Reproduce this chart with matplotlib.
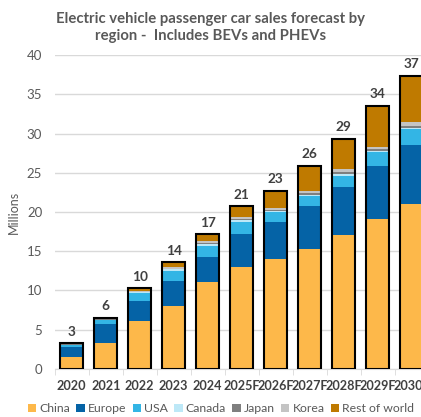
import matplotlib
matplotlib.use("Agg")
import matplotlib.pyplot as plt
import numpy as np
from matplotlib.patches import Patch

years = ["2020", "2021", "2022", "2023", "2024", "2025F", "2026F", "2027F", "2028F", "2029F", "2030F"]
china  = [1.45, 3.24, 6.05, 7.95, 11.03, 12.94, 13.96, 15.32, 17.10, 19.10, 20.98]
europe = [1.28, 2.43, 2.63, 3.22, 3.19, 4.25, 4.76, 5.41, 6.09, 6.73, 7.57]
usa    = [0.30, 0.55, 0.94, 1.32, 1.48, 1.50, 1.25, 1.31, 1.41, 1.79, 2.00]
canada = [0.05, 0.05, 0.12, 0.18, 0.22, 0.25, 0.20, 0.18, 0.25, 0.18, 0.22]
japan  = [0.03, 0.05, 0.08, 0.10, 0.12, 0.12, 0.12, 0.15, 0.22, 0.20, 0.22]
korea  = [0.05, 0.12, 0.15, 0.20, 0.25, 0.25, 0.25, 0.28, 0.38, 0.33, 0.45]
rest   = [0.08, 0.06, 0.30, 0.60, 0.85, 1.42, 2.15, 3.22, 3.91, 5.20, 5.96]
total_labels = ["3", "6", "10", "14", "17", "21", "23", "26", "29", "34", "37"]

series = [
    ("China", china, "#FDB84A"),
    ("Europe", europe, "#0563A6"),
    ("USA", usa, "#33B5E5"),
    ("Canada", canada, "#BDE8F7"),
    ("Japan", japan, "#7F7F7F"),
    ("Korea", korea, "#C4C4C4"),
    ("Rest of world", rest, "#BF7A00"),
]

plt.rcParams['font.family'] = ['Lato', 'DejaVu Sans']
txt = "#595959"

fig = plt.figure(figsize=(4.21, 4.17), dpi=100)
ax = fig.add_axes([0.13, 0.1158, 0.888, 0.7516])

x = np.arange(len(years))
w = 0.68
bottom = np.zeros(len(years))
for name, vals, col in series:
    v = np.array(vals)
    ax.bar(x, v, w, bottom=bottom, color=col, edgecolor='none', label=name, zorder=2)
    bottom += v

ax.bar(x, bottom, w, facecolor='none', edgecolor='black', linewidth=1.5, zorder=3)
for xi, tot, lab in zip(x, bottom, total_labels):
    ax.annotate(lab, (xi, tot), xytext=(0, 4), textcoords='offset points',
                ha='center', va='bottom', fontsize=9.8, fontweight='bold', color='#404040')

ax.set_xlim(-0.5, len(years) - 0.5)
ax.set_ylim(0, 40)
ax.set_yticks(np.arange(0, 41, 5))
ax.yaxis.grid(True, color='#D9D9D9', linewidth=1)
ax.set_axisbelow(True)
for s in ['top', 'right', 'left']:
    ax.spines[s].set_visible(False)
ax.spines['bottom'].set_color('#D9D9D9')
ax.tick_params(axis='y', length=0, labelsize=9.5, labelcolor=txt, pad=9)
ax.set_xticks(x)
ax.set_xticklabels(years, fontsize=9.1, fontweight='bold', color='#404040')
ax.tick_params(axis='x', length=0, pad=8)
ax.set_xticks(np.arange(-0.5, len(years), 1), minor=True)
ax.tick_params(axis='x', which='minor', length=4, color='#D9D9D9')
ax.set_ylabel("Millions", fontsize=9, color=txt, labelpad=5)

fig.text(0.5, 0.972, "Electric vehicle passenger car sales forecast by\nregion -  Includes BEVs and PHEVs",
         ha='center', va='top', fontsize=10.7, fontweight='bold', color=txt, linespacing=1.3)

handles = [Patch(facecolor=c, edgecolor='none') for _, _, c in series]
labels = [n for n, _, _ in series]
fig.legend(handles, labels, loc='lower center', bbox_to_anchor=(0.525, -0.02), ncol=7,
           frameon=False, fontsize=8.8, handlelength=0.7, handleheight=0.7,
           handletextpad=0.25, columnspacing=0.5, labelcolor=txt)

fig.savefig("out.png", dpi=100)
